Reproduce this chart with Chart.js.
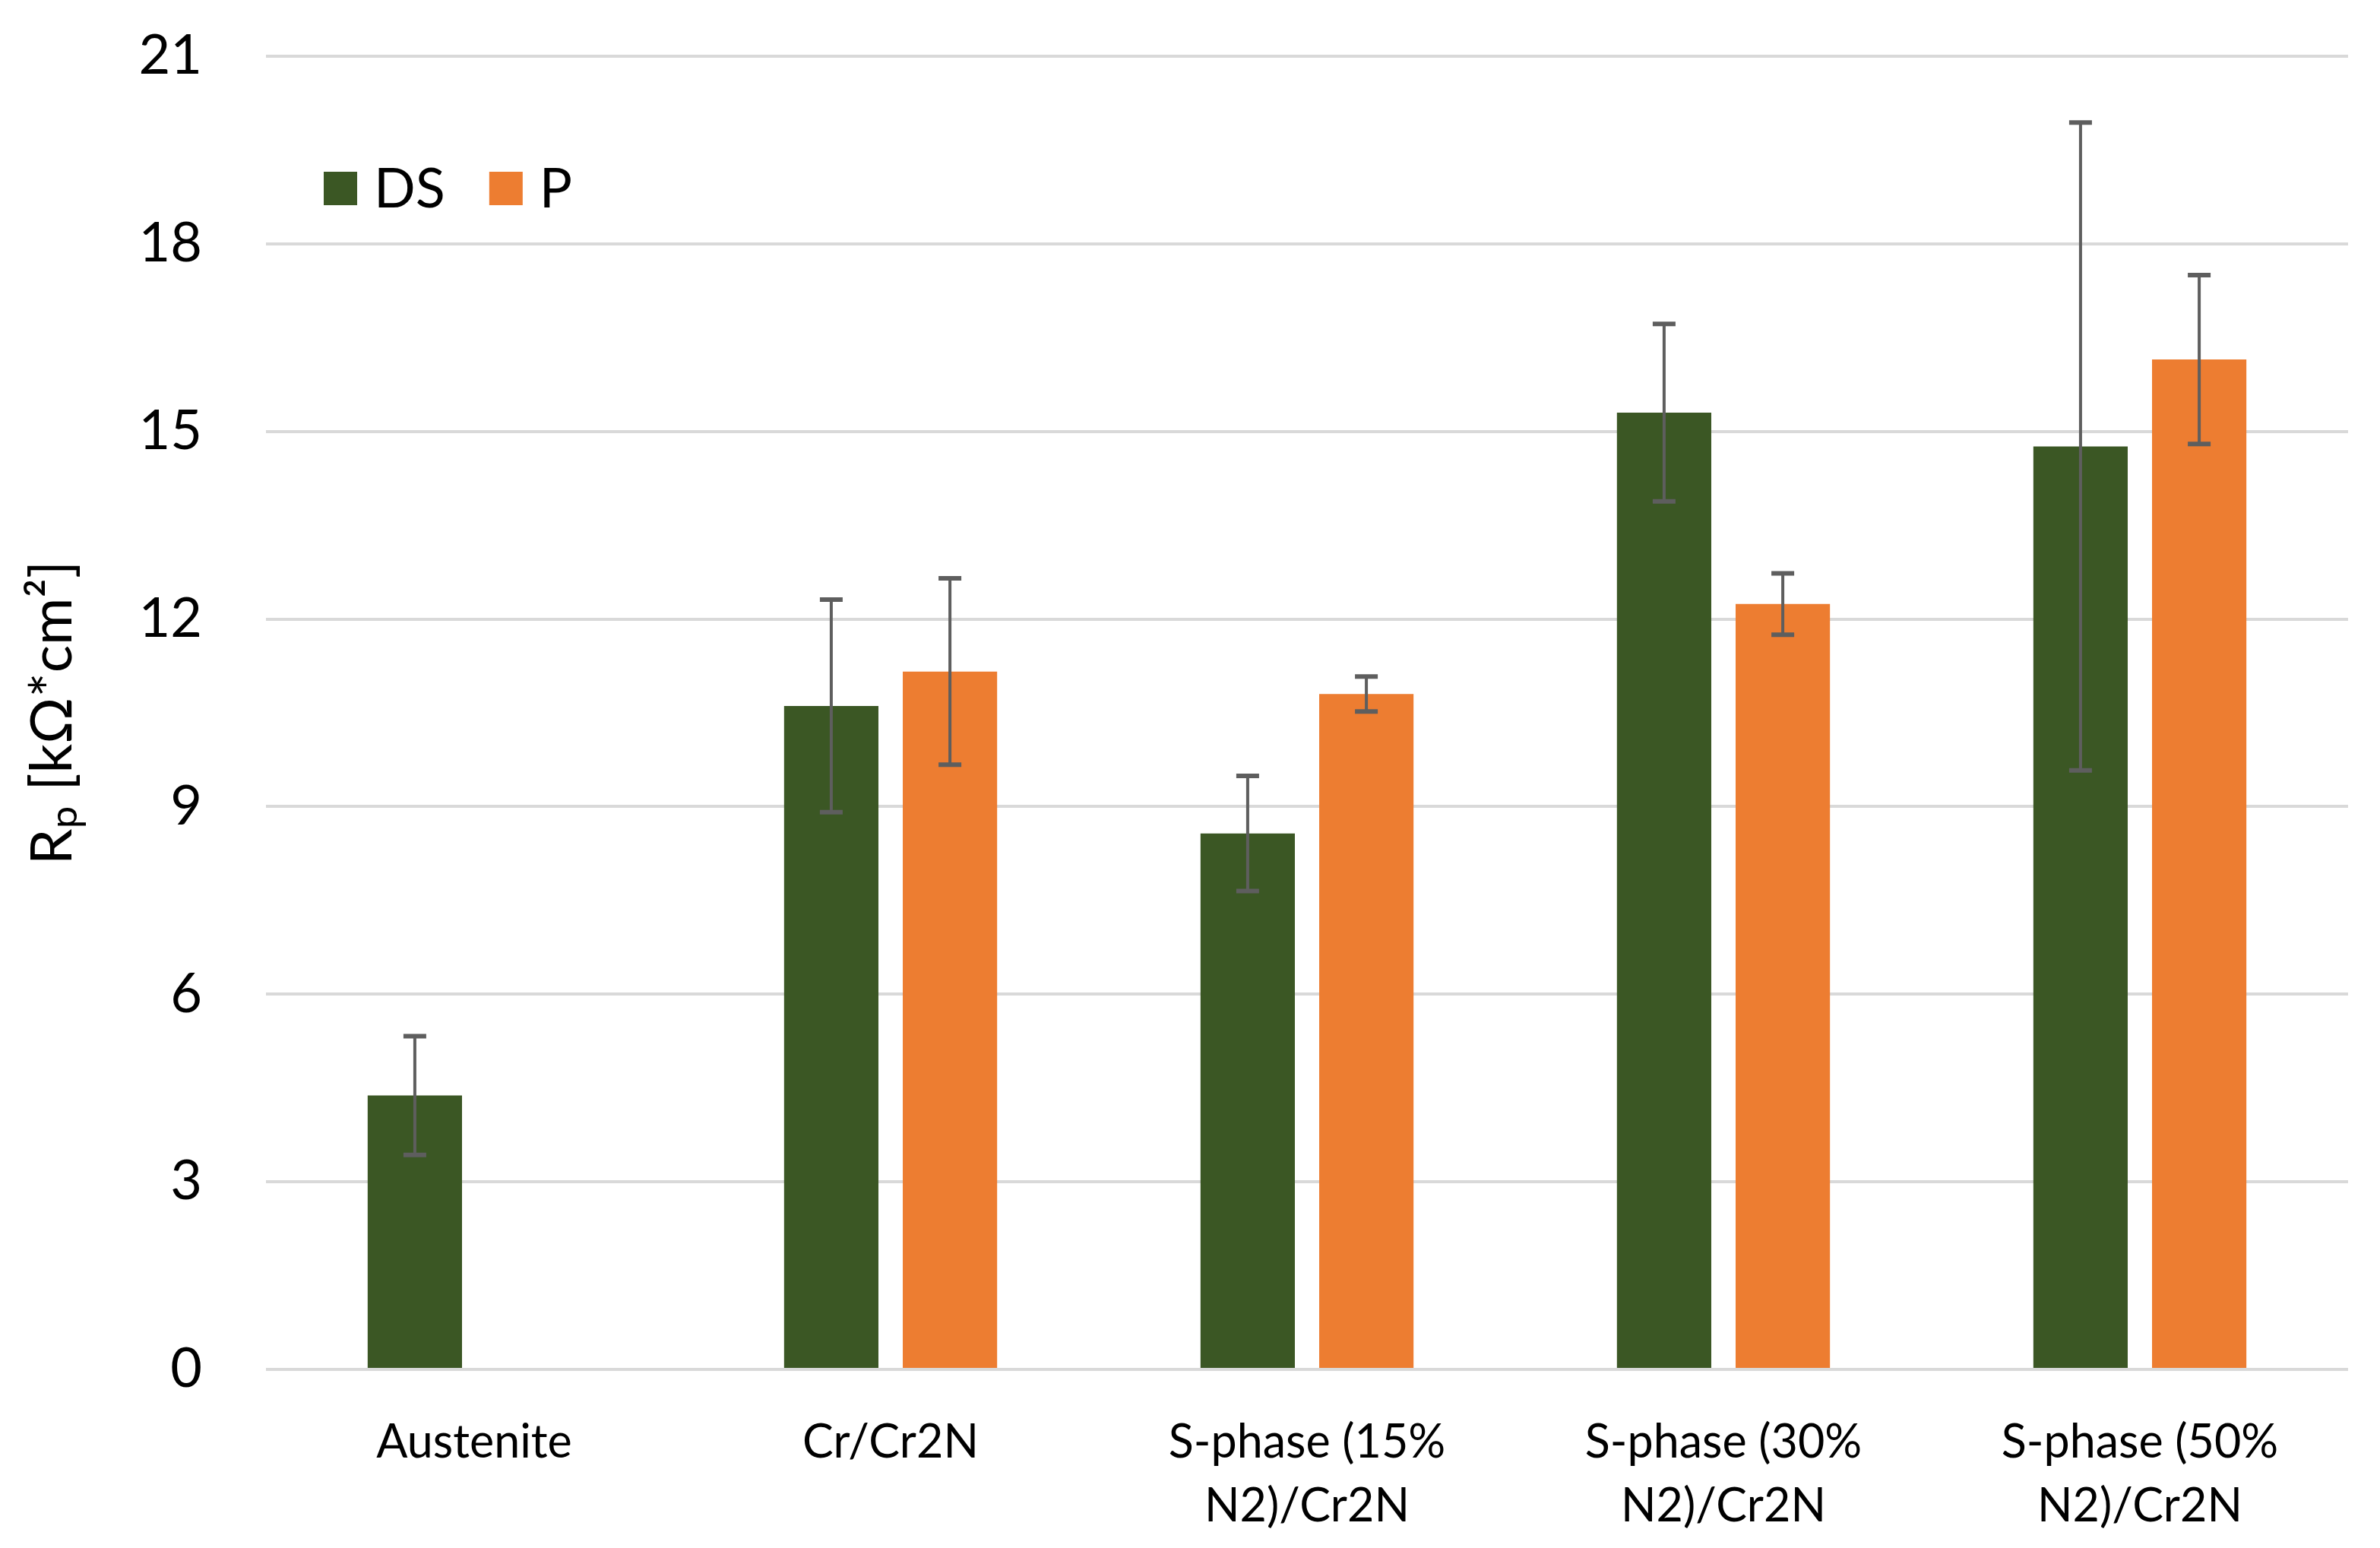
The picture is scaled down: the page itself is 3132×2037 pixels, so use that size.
<!DOCTYPE html>
<html>
<head>
<meta charset="utf-8">
<script src="https://cdn.jsdelivr.net/npm/chart.js@4.4.1/dist/chart.umd.min.js"></script>
<style>
html, body { margin: 0; padding: 0; background: #fff; }
#wrap { width: 3132px; height: 2037px; }
</style>
</head>
<body>
<div id="wrap"><canvas id="rp-chart"></canvas></div>
<script>
// data (Rp in kOhm*cm2)
const categories = ['Austenite', 'Cr/Cr2N', ['S-phase (15%', 'N2)/Cr2N'], ['S-phase (30%', 'N2)/Cr2N'], ['S-phase (50%', 'N2)/Cr2N']];
const seriesNames = ['DS', 'P'];
const dsValues = [4.38, 10.61, 8.57, 15.30, 14.76];
const dsErrors = [0.95, 1.70, 0.92, 1.42, 5.18];
const pValues = [null, 11.16, 10.80, 12.24, 16.15];
const pErrors = [null, 1.49, 0.28, 0.49, 1.35];
const yMax = 21;
const yStep = 3;

const errorsBySeries = [dsErrors, pErrors];
const FONT = 'Lato, "Noto Sans", sans-serif';

// error bars, drawn on top of the bars
const errorBars = {
    id: 'errorBars',
    afterDatasetsDraw(chart) {
        const ctx = chart.ctx;
        const y = chart.scales.y;
        chart.data.datasets.forEach((ds, i) => {
            const meta = chart.getDatasetMeta(i);
            meta.data.forEach((bar, j) => {
                const v = ds.data[j];
                const e = errorsBySeries[i][j];
                if (v == null || e == null) return;
                const top = y.getPixelForValue(v + e);
                const bot = y.getPixelForValue(v - e);
                ctx.save();
                ctx.strokeStyle = '#5e5e5e';
                ctx.lineWidth = 4;
                ctx.beginPath();
                ctx.moveTo(bar.x, top);
                ctx.lineTo(bar.x, bot);
                ctx.stroke();
                ctx.lineWidth = 6;
                ctx.beginPath();
                ctx.moveTo(bar.x - 15, top);
                ctx.lineTo(bar.x + 15, top);
                ctx.moveTo(bar.x - 15, bot);
                ctx.lineTo(bar.x + 15, bot);
                ctx.stroke();
                ctx.restore();
            });
        });
    }
};

// legend sits inside the plot, top left
const insideLegend = {
    id: 'insideLegend',
    afterDraw(chart) {
        const { ctx, chartArea } = chart;
        let x = chartArea.left + 76;
        const top = chartArea.top + 152;
        ctx.save();
        ctx.font = '72px ' + FONT;
        ctx.textBaseline = 'middle';
        chart.data.datasets.forEach(ds => {
            ctx.fillStyle = ds.backgroundColor;
            ctx.fillRect(x, top, 44, 44);
            x += 44 + 22;
            ctx.fillStyle = '#000';
            ctx.fillText(ds.label, x, top + 24);
            x += ctx.measureText(ds.label).width + 58;
        });
        ctx.restore();
    }
};

new Chart(document.getElementById('rp-chart'), {
    type: 'bar',
    data: {
        labels: categories,
        datasets: [{
            label: seriesNames[0],
            backgroundColor: '#3b5724',
            data: dsValues
        }, {
            label: seriesNames[1],
            backgroundColor: '#ed7d31',
            data: pValues
        }]
    },
    options: {
        responsive: true,
        maintainAspectRatio: false,
        devicePixelRatio: 1,
        animation: false,
        categoryPercentage: 0.57,
        barPercentage: 0.795,
        layout: {
            padding: { top: 74, right: 42, bottom: 0, left: 0 }
        },
        plugins: {
            legend: { display: false },
            tooltip: { enabled: false }
        },
        scales: {
            x: {
                grid: { display: false },
                border: { display: false },
                ticks: {
                    color: '#000',
                    padding: 46,
                    maxRotation: 0,
                    autoSkip: false,
                    font: { family: FONT, size: 61, lineHeight: 1.38 }
                },
                afterFit(scale) { scale.height = 235; }
            },
            y: {
                min: 0,
                max: yMax,
                grid: { color: '#d9d9d9', lineWidth: 4, drawTicks: false },
                border: { display: false },
                ticks: {
                    stepSize: yStep,
                    color: '#000',
                    padding: 84,
                    font: { family: FONT, size: 72 }
                },
                title: {
                    display: true,
                    text: 'Rₚ [kΩ*cm²]',
                    color: '#000',
                    padding: { top: 24, bottom: 0 },
                    font: { family: FONT, size: 76 }
                },
                afterFit(scale) {
                    scale.width = 350;
                    // tick padding is only meant horizontally here
                    scale.paddingTop = 0;
                }
            }
        }
    },
    plugins: [errorBars, insideLegend]
});
</script>
</body>
</html>
